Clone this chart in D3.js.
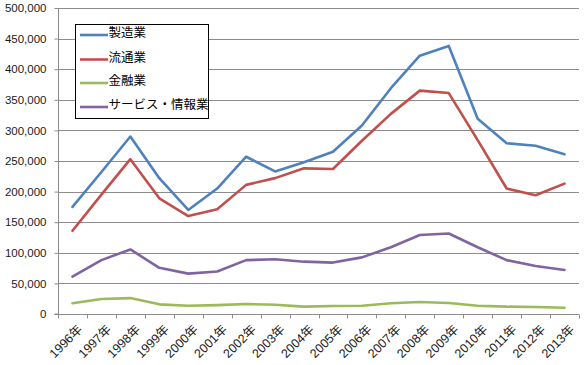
<!DOCTYPE html>
<html><head><meta charset="utf-8">
<script src="https://cdn.jsdelivr.net/npm/d3@7/dist/d3.min.js"></script>
<style>body{margin:0;background:#fff}</style>
</head><body>
<svg id="c" width="584" height="365"></svg>
<script>
const years = ["1996年","1997年","1998年","1999年","2000年","2001年","2002年","2003年","2004年","2005年","2006年","2007年","2008年","2009年","2010年","2011年","2012年","2013年"];
const seriesNames = ["製造業","流通業","金融業","サービス・情報業"];
const manufacturing = [175000,232000,290000,222000,170000,205000,257000,233000,248000,265000,308000,369000,422000,438000,319000,279000,275000,261000];
const distribution = [136000,195000,253000,189000,160000,171000,211000,222000,238000,237000,283000,327000,365000,361000,284000,205000,194000,213000];
const finance = [17500,24500,26000,15800,13600,14500,16300,15000,12000,13000,13500,17500,19600,18000,13600,12000,11500,10300];
const services = [61000,88000,105500,75500,66000,69500,88000,89500,85500,84000,92500,109000,129000,131500,109000,88000,78500,72000];
const yTicks = [0,50000,100000,150000,200000,250000,300000,350000,400000,450000,500000];
const colors = ["#4F81BD","#C0504D","#9BBB59","#8064A2"];
const data = [manufacturing, distribution, finance, services];

const svg = d3.select("#c");
const L = 58, R = 579, T = 8, B = 314;
const font = "'Liberation Sans', Arial, 'Noto Sans CJK JP', sans-serif";
const x = d3.scaleBand().domain(years).range([L, R]);
const y = d3.scaleLinear().domain([0, 500000]).range([B, T]);

// gridlines
svg.append("g").selectAll("line").data(yTicks.slice(1)).join("line")
  .attr("x1", L).attr("x2", R).attr("y1", d => Math.round(y(d)) + 0.5).attr("y2", d => Math.round(y(d)) + 0.5)
  .attr("stroke", "#8c8c8c").attr("stroke-width", 1);

// y axis
const ya = svg.append("g").attr("transform", `translate(${L + 0.5},0)`)
  .call(d3.axisLeft(y).tickValues(yTicks).tickSize(4).tickPadding(8).tickFormat(d3.format(",")));
ya.selectAll("path,line").attr("stroke", "#8c8c8c");
ya.selectAll("text").attr("font-family", font).attr("font-size", 11.5).attr("fill", "#1a1a1a");
ya.select(".domain").attr("d", `M-4,${B}H0V${T}`);

// x axis
const xa = svg.append("g").attr("transform", `translate(0,${B + 0.5})`);
xa.append("line").attr("x1", L).attr("x2", R).attr("stroke", "#8c8c8c");
xa.selectAll("line.t").data(years.concat(["end"])).join("line").attr("class", "t")
  .attr("x1", (d, i) => Math.round(L + i * x.bandwidth()) + 0.5)
  .attr("x2", (d, i) => Math.round(L + i * x.bandwidth()) + 0.5)
  .attr("y1", 0).attr("y2", 4).attr("stroke", "#8c8c8c");
xa.selectAll("text").data(years).join("text")
  .attr("transform", d => `translate(${x(d) + x.bandwidth() / 2 + 4},9) rotate(-45)`)
  .attr("text-anchor", "end").attr("dy", "0.75em")
  .attr("font-family", font).attr("font-size", 12.5).attr("fill", "#1a1a1a")
  .text(d => d);

// lines
const line = d3.line().x((d, i) => x(years[i]) + x.bandwidth() / 2).y(d => y(d));
svg.append("g").selectAll("path").data(data).join("path")
  .attr("d", d => line(d)).attr("fill", "none")
  .attr("stroke", (d, i) => colors[i]).attr("stroke-width", 2.6)
  .attr("stroke-linejoin", "round").attr("stroke-linecap", "round");

// legend
const lg = svg.append("g");
lg.append("rect").attr("x", 75.5).attr("y", 24.5).attr("width", 133).attr("height", 94)
  .attr("fill", "#fff").attr("stroke", "#000").attr("stroke-width", 1);
const rowsY = [35, 59.5, 83, 107];
seriesNames.forEach((n, i) => {
  lg.append("line").attr("x1", 80).attr("x2", 108).attr("y1", rowsY[i]).attr("y2", rowsY[i])
    .attr("stroke", colors[i]).attr("stroke-width", 2.6);
  lg.append("text").attr("x", 108.5).attr("y", rowsY[i] - 2).attr("dy", "0.35em")
    .attr("font-family", "'Noto Sans CJK JP', sans-serif").attr("font-size", 12.5).attr("fill", "#000")
    .text(n);
});
</script>
</body></html>
